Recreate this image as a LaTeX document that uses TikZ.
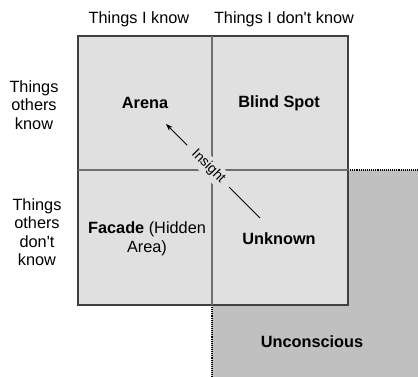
\documentclass[tikz,border=0pt]{standalone}
\usepackage{fontspec}
\setmainfont{Liberation Sans}
\usepackage{tikz}
\usetikzlibrary{arrows.meta, positioning}
\definecolor{cellgray}{RGB}{224, 224, 224}
\definecolor{deepgray}{RGB}{192, 192, 192}
\definecolor{gridgray}{RGB}{110, 110, 110}
\definecolor{framegray}{RGB}{64, 64, 64}

\begin{document}
\begin{tikzpicture}[x=1pt, y=1pt,
    every node/.style={font=\fontsize{16.3}{18.5}\selectfont, align=center},
    cell/.style={font=\fontsize{16.3}{18.5}\selectfont\bfseries},
    dotline/.style={densely dotted, line width=1.1pt}]
      \useasboundingbox (0, 0) rectangle (418, 377);

      % Unconscious area (behind the window)
      \fill[deepgray] (212, 0) rectangle (418, 207);
      \draw[dotline] (348, 207) -- (418, 207);
      \draw[dotline] (212, 72) -- (212, 0);
      \node[cell] (unconscious) at (312, 35) {Unconscious};

      % Window
      \draw[fill=cellgray, draw=framegray, line width=1.2pt]
        (78, 72) rectangle (348, 341);
      \draw[gridgray, line width=1.4pt] (212, 72) -- (212, 341);
      \draw[gridgray, line width=1.4pt] (78, 207) -- (348, 207);

      % Column and row headings
      \node (iknow) at (139, 358) {Things I know};
      \node (idontknow) at (284, 358) {Things I don\textquotesingle t know};
      \node (othersknow) at (34, 272) {Things\\others\\know};
      \node (othersdont) at (37, 145) {Things\\others\\don\textquotesingle t\\know};

      % Quadrants
      \node[cell] (arena) at (145, 274) {Arena};
      \node[cell] (blind) at (279, 274) {Blind Spot};
      \node (facade) at (147, 138) {\textbf{Facade} (Hidden\\Area)};
      \node[cell] (unknown) at (279, 138) {Unknown};

      % Insight arrow
      \coordinate (from) at (260, 159);
      \coordinate (to) at (166, 253);
      \draw[-{Stealth[length=7pt, width=5pt]}, line width=0.8pt] (from) -- (to)
        node[pos=0.55, sloped, fill=cellgray, inner xsep=9pt, inner ysep=3pt,
          font=\fontsize{14}{16}\selectfont] (insight) {Insight};
    \end{tikzpicture}
\end{document}
